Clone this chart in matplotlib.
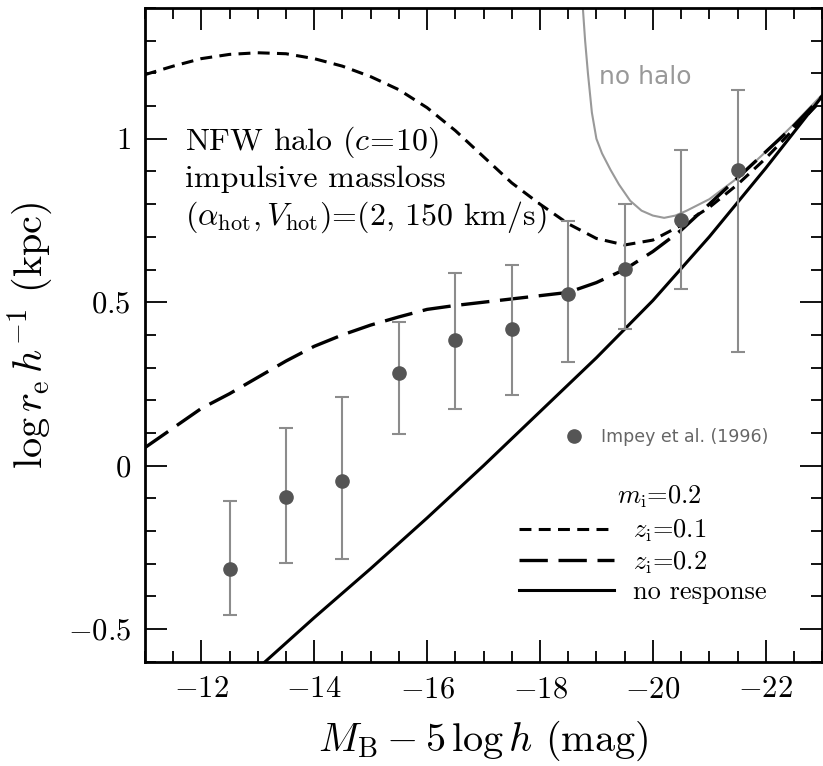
import matplotlib
matplotlib.use("Agg")
import matplotlib.pyplot as plt
from matplotlib.ticker import MultipleLocator, FuncFormatter
from matplotlib.lines import Line2D

plt.rcParams['font.family'] = 'serif'
plt.rcParams['font.serif'] = ['cmr10', 'DejaVu Serif']
plt.rcParams['mathtext.fontset'] = 'cm'
plt.rcParams['axes.formatter.use_mathtext'] = True

# Impey et al. (1996) data
mag_obs = [-12.5, -13.5, -14.5, -15.5, -16.5, -17.5, -18.5, -19.5, -20.5, -21.5]
re_obs = [-0.315, -0.095, -0.046, 0.284, 0.385, 0.419, 0.526, 0.602, 0.752, 0.905]
re_hi = [-0.107, 0.116, 0.211, 0.44, 0.59, 0.615, 0.749, 0.80, 0.966, 1.15]
re_lo = [-0.456, -0.297, -0.284, 0.098, 0.174, 0.217, 0.318, 0.419, 0.541, 0.349]

# model curves
mag_grid = [-11, -11.5, -12, -12.5, -13, -13.5, -14, -14.5, -15, -15.5, -16, -16.5,
            -17, -17.5, -18, -18.5, -19, -19.5, -20, -20.5, -21, -21.5, -22, -22.5, -23]
z01 = [1.196, 1.222, 1.245, 1.258, 1.263, 1.26, 1.245, 1.222, 1.19, 1.15, 1.095, 1.025,
       0.945, 0.865, 0.80, 0.74, 0.695, 0.675, 0.69, 0.735, 0.79, 0.86, 0.94, 1.03, 1.12]
z02 = [0.055, 0.115, 0.175, 0.22, 0.27, 0.32, 0.365, 0.40, 0.43, 0.455, 0.478, 0.49,
       0.50, 0.51, 0.52, 0.53, 0.56, 0.60, 0.655, 0.72, 0.80, 0.88, 0.96, 1.04, 1.13]

mag_nr = [-13, -14, -15, -16, -17, -18, -19, -20, -21, -22, -23]
no_resp = [-0.62, -0.465, -0.315, -0.16, 0.0, 0.165, 0.33, 0.505, 0.70, 0.91, 1.13]

mag_nh = [-18.76, -18.8, -18.85, -18.92, -19.0, -19.1, -19.25, -19.4, -19.6, -19.8, -20.0,
          -20.2, -20.4, -20.6, -21.0, -21.5, -22.0, -22.5, -23.0]
no_halo = [1.40, 1.30, 1.20, 1.08, 1.0, 0.955, 0.905, 0.86, 0.81, 0.78, 0.765,
           0.758, 0.765, 0.78, 0.815, 0.88, 0.96, 1.045, 1.135]

fig = plt.figure(figsize=(8.23, 7.66), dpi=100)
ax = fig.add_axes([0.176, 0.136, 0.823, 0.8536])

ax.plot(mag_nh, no_halo, color='#999999', lw=1.5)
ax.plot(mag_grid, z01, color='black', lw=2.2, ls=(0, (3.9, 2.4)))
ax.plot(mag_grid, z02, color='black', lw=2.4, ls=(0, (8.5, 3.2)))
ax.plot(mag_nr, no_resp, color='black', lw=2.2)

yerr = [[v - lo for v, lo in zip(re_obs, re_lo)], [hi - v for v, hi in zip(re_obs, re_hi)]]
ax.errorbar(mag_obs, re_obs, yerr=yerr, fmt='o', color='#555555', ms=9.5,
            ecolor='#8c8c8c', elinewidth=1.5, capsize=4.7, capthick=1.5, zorder=3)

ax.set_xlim(-11, -23)
ax.set_ylim(-0.6, 1.4)

ax.xaxis.set_major_locator(MultipleLocator(2))
ax.xaxis.set_minor_locator(MultipleLocator(0.5))
ax.yaxis.set_major_locator(MultipleLocator(0.5))
ax.yaxis.set_minor_locator(MultipleLocator(0.1))
fmt = FuncFormatter(lambda v, p: r"$%g$" % round(v, 2) if abs(v) > 1e-9 else r"$0$")
ax.xaxis.set_major_formatter(fmt)
ax.yaxis.set_major_formatter(fmt)
ax.tick_params(which='both', direction='in', top=True, right=True, labelsize=22, width=1.3)
ax.tick_params(which='major', length=16, pad=10)
ax.tick_params(which='minor', length=8)
for s in ax.spines.values():
    s.set_linewidth(2)

ax.set_xlabel(r"$M_{\rm B} - 5\,\log h$ (mag)", fontsize=29, labelpad=11)
ax.set_ylabel(r"$\log r_{\rm e}\,h^{-1}$ (kpc)", fontsize=29, labelpad=9)

ax.text(-11.72, 0.875, "NFW halo ($c\\!=\\!10$)\nimpulsive massloss\n"
        r"($\alpha_{\rm hot}, V_{\rm hot}$)=(2, 150 km/s)",
        fontsize=23, va='center', ha='left', linespacing=1.25)
ax.text(-19.05, 1.19, "no halo", color='#999999', fontsize=18, family='DejaVu Sans',
        va='center', ha='left')

leg1 = ax.legend(handles=[Line2D([], [], ls='none', marker='o', color='#555555', ms=9.5)],
                 labels=['Impey et al. (1996)'], loc='center left',
                 bbox_to_anchor=(0.585, 0.344), frameon=False, handletextpad=0.55,
                 prop={'family': 'DejaVu Sans', 'size': 12.5})
for t in leg1.get_texts():
    t.set_color('#666666')
ax.add_artist(leg1)

h1 = Line2D([], [], color='black', lw=2.2, ls=(0, (3.9, 2.4)))
h2 = Line2D([], [], color='black', lw=2.4, ls=(0, (8.5, 3.2)))
h3 = Line2D([], [], color='black', lw=2.2)
leg2 = ax.legend(handles=[h1, h2, h3],
                 labels=[r"$z_{\rm i}$=0.1", r"$z_{\rm i}$=0.2", "no response"],
                 loc='lower right', bbox_to_anchor=(0.945, 0.06),
                 frameon=False, fontsize=19, handlelength=3.6,
                 handletextpad=0.7, labelspacing=0.18, borderpad=0.2)
ax.text(0.697, 0.252, r"$m_{\rm i}$=0.2", transform=ax.transAxes, fontsize=19,
        ha='left', va='center')

fig.savefig('out.png', dpi=100)
